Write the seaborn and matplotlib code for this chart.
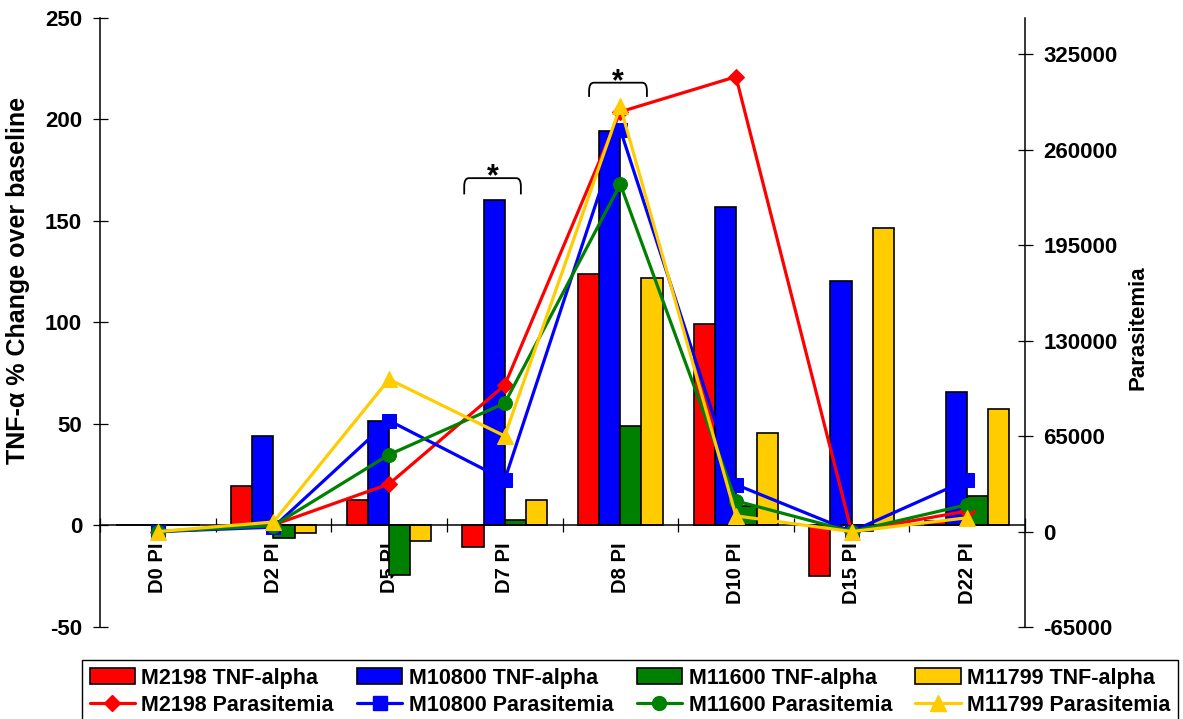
import numpy as np
import pandas as pd
import matplotlib
matplotlib.use("Agg")
import matplotlib.pyplot as plt
from matplotlib.patches import Patch, PathPatch
from matplotlib.lines import Line2D
from matplotlib.path import Path
import seaborn as sns

# ---- data -----------------------------------------------------------------
days = ["D0 PI", "D2 PI", "D5 PI", "D7 PI", "D8 PI", "D10 PI", "D15 PI", "D22 PI"]
monkeys = ["M2198", "M10800", "M11600", "M11799"]
colors = ["#FF0000", "#0000FF", "#008000", "#FFCC00"]
markers = ["D", "s", "o", "^"]

# TNF-alpha, % change over baseline (left axis)
tnf_m2198 = [0, 19.5, 12.5, -10.5, 124, 99, -25, 2]
tnf_m10800 = [0, 44, 51.5, 160, 194, 157, 120.5, 65.5]
tnf_m11600 = [0, -6, -24.5, 2.5, 49, 9.5, -2.5, 14.5]
tnf_m11799 = [0, -3.5, -7.5, 12.5, 122, 45.5, 146.5, 57.5]

# Parasitemia (right axis)
par_m2198 = [0, 4500, 32400, 99700, 285900, 309800, 0, 14000]
par_m10800 = [0, 3000, 75600, 35200, 273700, 32000, 0, 35200]
par_m11600 = [0, 4000, 52400, 87400, 236600, 20900, 0, 18300]
par_m11799 = [0, 6500, 103700, 65100, 289600, 10700, 0, 9400]

left_ticks = [-50, 0, 50, 100, 150, 200, 250]
right_ticks = [-65000, 0, 65000, 130000, 195000, 260000, 325000]

# significance brackets: day, left/right offset from the day, top, leg bottom
sig_brackets = [("D7 PI", -0.35, 0.14, 171, 163), ("D8 PI", -0.27, 0.23, 218, 211)]

tnf_series = [tnf_m2198, tnf_m10800, tnf_m11600, tnf_m11799]
par_series = [par_m2198, par_m10800, par_m11600, par_m11799]

tnf = pd.DataFrame({
    "day": days * len(monkeys),
    "monkey": np.repeat(monkeys, len(days)),
    "value": np.concatenate(tnf_series),
})

# ---- style ----------------------------------------------------------------
sns.set_style("white")
plt.rcParams["font.family"] = ["Liberation Sans", "DejaVu Sans"]
plt.rcParams["font.weight"] = "bold"
for key in ["text.color", "axes.labelcolor", "xtick.color", "ytick.color",
            "axes.edgecolor"]:
    plt.rcParams[key] = "black"

W, H = 1183, 719
fig = plt.figure(figsize=(W / 100, H / 100), dpi=100)
ax1 = fig.add_axes([100 / W, 1 - 627 / H, 925 / W, 609.3 / H])

sns.barplot(data=tnf, x="day", y="value", hue="monkey", order=days,
            hue_order=monkeys, palette=colors, saturation=1, width=0.73,
            errorbar=None, edgecolor="black", linewidth=1.2, legend=False,
            ax=ax1)

ms_by_marker = {"D": 8.5, "s": 9.5, "o": 10, "^": 11}

ax2 = ax1.twinx()
for name, vals, col, mk in zip(monkeys, par_series, colors, markers):
    sns.lineplot(x=np.arange(len(days)), y=vals, ax=ax2, color=col,
                 marker=mk, markersize=ms_by_marker[mk], markeredgecolor=col,
                 linewidth=2.3, legend=False)

# ---- axes -----------------------------------------------------------------
ax1.set_xlim(-0.5, len(days) - 0.5)
ax1.set_ylim(-50, 250)
ax2.set_ylim(-65000, 350000)
ax1.set_xlabel("")
ax1.set_ylabel("")
ax2.set_ylabel("")

for s in ["top", "right"]:
    ax1.spines[s].set_visible(False)
ax1.spines["bottom"].set_position(("data", 0))
for s in ["left", "bottom"]:
    ax1.spines[s].set_color("black")
    ax1.spines[s].set_linewidth(1.1)
for s in ["top", "left", "bottom"]:
    ax2.spines[s].set_visible(False)
ax2.spines["right"].set_color("black")
ax2.spines["right"].set_linewidth(1.1)

tick_font = {"weight": "bold", "size": 16}
ax1.set_yticks(left_ticks)
ax1.set_yticklabels([str(v) for v in left_ticks], fontdict=tick_font)
ax2.set_yticks(right_ticks)
ax2.set_yticklabels([str(v) for v in right_ticks], fontdict=tick_font)
ax1.tick_params(axis="y", direction="inout", length=10.8, width=0.9,
                pad=7.5, left=True, colors="black")
ax2.tick_params(axis="y", direction="inout", length=10.8, width=0.9,
                pad=7.8, right=True, colors="black")

# category boundaries carry the tick marks, centres carry the labels
ax1.set_xticks(np.arange(-0.5, len(days), 1.0))
ax1.set_xticklabels([])
ax1.set_xticks(np.arange(len(days)), labels=days, minor=True)
ax1.tick_params(axis="x", which="major", direction="inout", length=10,
                width=0.9, bottom=True, colors="black")
ax1.tick_params(axis="x", which="minor", length=0, pad=12, labelsize=14.5,
                labelrotation=90, bottom=True, colors="black")

fig.text(18 / W, 1 - 280 / H, "TNF-α % Change over baseline", rotation=90,
         ha="center", va="center", fontsize=18, fontweight="bold")
fig.text(1138 / W, 1 - 328 / H, "Parasitemia", rotation=90,
         ha="center", va="center", fontsize=16, fontweight="bold")

# ---- significance brackets --------------------------------------------------
for day, dl, dr, ytop, ybot in sig_brackets:
    xc = days.index(day)
    x0, x1 = xc + dl, xc + dr
    rx, ry = 0.04, 4
    verts = [(x0, ybot), (x0, ytop - ry), (x0, ytop), (x0 + rx, ytop),
             (x1 - rx, ytop), (x1, ytop), (x1, ytop - ry), (x1, ybot)]
    codes = [Path.MOVETO, Path.LINETO, Path.CURVE3, Path.CURVE3,
             Path.LINETO, Path.CURVE3, Path.CURVE3, Path.LINETO]
    ax1.add_patch(PathPatch(Path(verts, codes), facecolor="none",
                            edgecolor="black", linewidth=1.3, clip_on=False))
    ax1.text((x0 + x1) / 2, ytop - 3.5, "*", ha="center", va="baseline",
             fontsize=22, fontweight="bold", color="black")

# ---- legend ---------------------------------------------------------------
handles, labels = [], []
for name, col, mk in zip(monkeys, colors, markers):
    handles.append(Patch(facecolor=col, edgecolor="black", linewidth=1.2))
    labels.append(f"{name} TNF-alpha")
    handles.append(Line2D([], [], color=col, marker=mk,
                          markersize=ms_by_marker[mk], markeredgecolor=col,
                          linewidth=2.3))
    labels.append(f"{name} Parasitemia")

leg = fig.legend(handles, labels, loc="upper left", ncol=4, mode="expand",
                 bbox_to_anchor=(82 / W, 0, 1096 / W, 1 - 660 / H),
                 frameon=True, fancybox=False, framealpha=1,
                 edgecolor="black", borderpad=0.35, labelspacing=0.3,
                 handlelength=2.1, handletextpad=0.3, borderaxespad=0,
                 prop={"size": 15.5, "weight": "bold"})
leg.get_frame().set_linewidth(1.0)

fig.savefig("out.png", dpi=100)
